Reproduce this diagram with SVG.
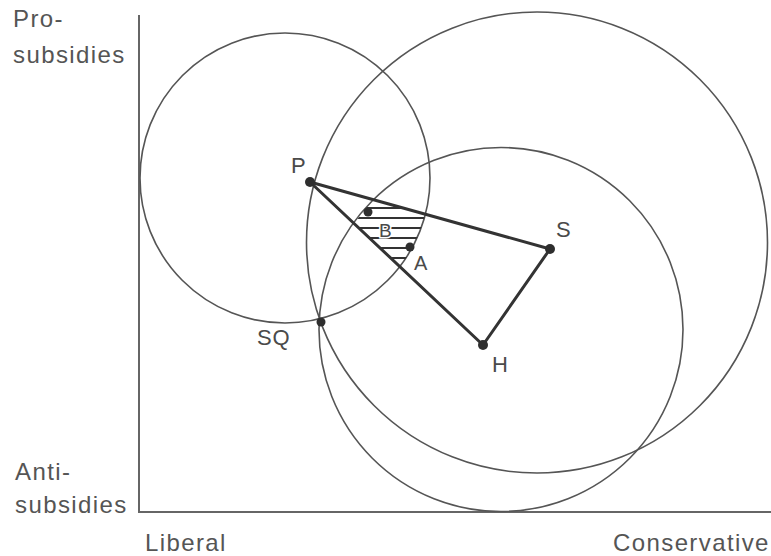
<svg xmlns="http://www.w3.org/2000/svg" width="771" height="556" viewBox="0 0 771 556">
<style>
.ax{font-family:"Liberation Sans",Arial,Helvetica,sans-serif;font-size:24px;fill:#555;letter-spacing:1.4px}
.lb{font-family:"Liberation Sans",Arial,Helvetica,sans-serif;font-size:22px;fill:#4a4a4a;letter-spacing:0.8px}
.circ{fill:none;stroke:#555;stroke-width:1.6}
.axis{fill:none;stroke:#666;stroke-width:2}
.edge{stroke:#333;stroke-width:3;stroke-linecap:round}
.dot{fill:#2e2e2e}
.hatch{stroke:#333;stroke-width:2}
</style>
<defs>
<clipPath id="winset">
<path d="M373,200 L425.4,214 A145,145 0 0 1 400,267 L354,224 A182,182 0 0 1 373,200 Z"/>
</clipPath>
</defs>
<rect width="771" height="556" fill="#fff"/>
<g id="axes">
<path class="axis" d="M139,15 V512 H771"/>
<text class="ax" x="13" y="27">Pro-</text>
<text class="ax" x="13" y="63">subsidies</text>
<text class="ax" x="15" y="480">Anti-</text>
<text class="ax" x="15" y="513">subsidies</text>
<text class="ax" x="145" y="551">Liberal</text>
<text class="ax" x="613" y="551">Conservative</text>
</g>
<g id="circles">
<circle id="circle-P" class="circ" cx="285" cy="178" r="145"/>
<circle id="circle-S" class="circ" cx="537" cy="242.5" r="230.5"/>
<circle id="circle-H" class="circ" cx="501" cy="329.5" r="182"/>
</g>
<g id="winset-hatch" clip-path="url(#winset)">
<line class="hatch" x1="340" y1="208" x2="440" y2="208"/>
<line class="hatch" x1="340" y1="218" x2="440" y2="218"/>
<line class="hatch" x1="340" y1="228" x2="440" y2="228"/>
<line class="hatch" x1="340" y1="238" x2="440" y2="238"/>
<line class="hatch" x1="340" y1="248" x2="440" y2="248"/>
<line class="hatch" x1="340" y1="258" x2="440" y2="258"/>
</g>
<g id="connectors">
<line class="edge" x1="310" y1="182" x2="550" y2="249"/>
<line class="edge" x1="310" y1="182" x2="483" y2="345"/>
<line class="edge" x1="550" y1="249" x2="483" y2="345"/>
</g>
<g id="node-P"><circle class="dot" cx="310" cy="182" r="5"/><text class="lb" x="291" y="173">P</text></g>
<g id="node-S"><circle class="dot" cx="550" cy="249" r="5"/><text class="lb" x="556" y="237">S</text></g>
<g id="node-H"><circle class="dot" cx="483" cy="345" r="5"/><text class="lb" x="492" y="372">H</text></g>
<g id="node-SQ"><circle class="dot" cx="321" cy="322" r="4.5"/><text class="lb" x="257" y="345">SQ</text></g>
<g id="node-B"><circle class="dot" cx="368" cy="212" r="4.5"/><text class="lb" x="379" y="237" style="font-size:19px;paint-order:stroke;stroke:#fff;stroke-width:3px">B</text></g>
<g id="node-A"><circle class="dot" cx="410" cy="247" r="4.5"/><text class="lb" x="414" y="270" style="font-size:20px">A</text></g>
</svg>
